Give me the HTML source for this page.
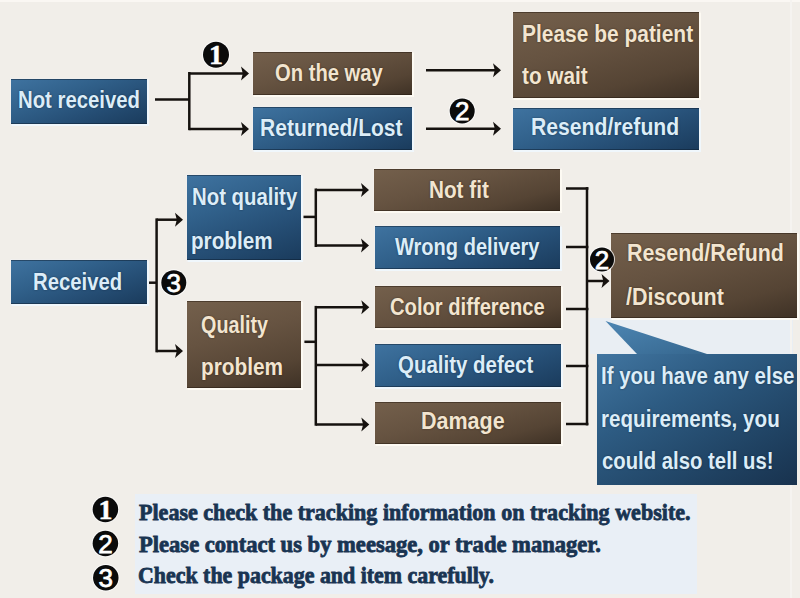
<!DOCTYPE html>
<html><head><meta charset="utf-8"><style>
html,body{margin:0;padding:0;}
body{width:800px;height:598px;overflow:hidden;position:relative;background:#f1eee9;font-family:"Liberation Sans",sans-serif;}
.bx{position:absolute;box-sizing:border-box;box-shadow:0 0 1px 1px rgba(255,255,255,0.75);}
.blue{background:linear-gradient(160deg,#3f73a0 0%,#31618b 35%,#264f76 65%,#1a3b5c 100%);box-shadow:0 0 1px 1.5px rgba(240,248,255,0.85),inset 0 1px 0 rgba(10,25,40,0.45),inset 0 -1px 0 rgba(10,25,40,0.45);}
.brown{background:linear-gradient(165deg,#74604c 0%,#665341 40%,#554434 75%,#3e3125 100%);box-shadow:0 0 1px 1.5px rgba(255,252,245,0.85),inset 0 1px 0 rgba(30,20,10,0.45),inset 0 -1px 0 rgba(30,20,10,0.45);}
.t{position:absolute;white-space:nowrap;font-weight:bold;font-size:23px;line-height:23px;}
.t span{display:inline-block;transform-origin:0 50%;}
.c span{transform-origin:50% 50%;}
.l span{transform-origin:0 50%;}
.tb{color:#dcedf8;text-shadow:0 0 2px rgba(0,20,40,0.6);}
.tr{color:#f2e5d0;text-shadow:0 0 2px rgba(30,15,0,0.6);}
.bt{position:absolute;white-space:nowrap;font-family:"Liberation Serif",serif;font-weight:bold;font-size:23px;line-height:23px;color:#193452;-webkit-text-stroke:0.8px #193452;}
svg{position:absolute;left:0;top:0;}
</style></head><body>

<div style="position:absolute;left:0;top:0;width:800px;height:1.5px;background:#faf7f3;"></div>
<div style="position:absolute;left:135px;top:494px;width:562px;height:100px;background:#e9eff6;"></div>
<div style="position:absolute;left:590px;top:318px;width:203px;height:36px;background:#e9eef3;"></div>
<div style="position:absolute;left:790px;top:0;width:1.5px;height:598px;background:#f5f3f0;"></div>
<div class="bx blue" style="left:11px;top:79px;width:136px;height:45px;"></div>
<div class="bx brown" style="left:253px;top:52px;width:158.5px;height:43px;"></div>
<div class="bx blue" style="left:253px;top:107px;width:158.5px;height:42.5px;"></div>
<div class="bx brown" style="left:513px;top:12px;width:186px;height:86px;"></div>
<div class="bx blue" style="left:513px;top:108px;width:186px;height:42px;"></div>
<div class="bx blue" style="left:11px;top:260px;width:136px;height:44px;"></div>
<div class="bx blue" style="left:187px;top:175px;width:114px;height:85px;"></div>
<div class="bx brown" style="left:187px;top:301px;width:114px;height:87px;"></div>
<div class="bx brown" style="left:374px;top:169px;width:186px;height:42px;"></div>
<div class="bx blue" style="left:374.5px;top:225.5px;width:185.5px;height:43px;"></div>
<div class="bx brown" style="left:375px;top:286px;width:185.5px;height:41.7px;"></div>
<div class="bx blue" style="left:375px;top:344px;width:185.5px;height:43.4px;"></div>
<div class="bx brown" style="left:375px;top:401.8px;width:185.5px;height:42.4px;"></div>
<div class="bx brown" style="left:611px;top:233px;width:186px;height:85px;"></div>
<div style="position:absolute;left:596.5px;top:353.5px;width:200px;height:131px;background:linear-gradient(150deg,#4175a0 0%,#2d5b82 35%,#214566 70%,#18324e 100%);"></div>
<svg width="800" height="598" viewBox="0 0 800 598" style="position:absolute;left:0;top:0"><defs><linearGradient id="tg" x1="0" y1="0" x2="1" y2="1"><stop offset="0" stop-color="#4d86b3"/><stop offset="1" stop-color="#36678f"/></linearGradient></defs><polygon points="605.5,321 637,354 707,354" fill="url(#tg)"/></svg>
<div class="t tb" style="left:17.52px;top:89.03px;"><span style="transform:scaleX(0.8838)">Not received</span></div>
<div class="t tr" style="left:275.40px;top:61.53px;"><span style="transform:scaleX(0.8783)">On the way</span></div>
<div class="t tb" style="left:260.49px;top:116.53px;"><span style="transform:scaleX(0.9144)">Returned/Lost</span></div>
<div class="t tr" style="left:521.99px;top:22.53px;"><span style="transform:scaleX(0.9106)">Please be patient</span></div>
<div class="t tr" style="left:522.30px;top:64.78px;"><span style="transform:scaleX(0.9027)">to wait</span></div>
<div class="t tb" style="left:531.38px;top:116.03px;"><span style="transform:scaleX(0.9203)">Resend/refund</span></div>
<div class="t tb" style="left:33.32px;top:270.73px;"><span style="transform:scaleX(0.8832)">Received</span></div>
<div class="t tb" style="left:191.51px;top:186.33px;"><span style="transform:scaleX(0.8853)">Not quality</span></div>
<div class="t tb" style="left:191.25px;top:230.03px;"><span style="transform:scaleX(0.8983)">problem</span></div>
<div class="t tr" style="left:201.40px;top:313.53px;"><span style="transform:scaleX(0.8597)">Quality</span></div>
<div class="t tr" style="left:200.50px;top:355.73px;"><span style="transform:scaleX(0.9039)">problem</span></div>
<div class="t tr" style="left:429.10px;top:178.53px;"><span style="transform:scaleX(0.9003)">Not fit</span></div>
<div class="t tb" style="left:395.40px;top:236.03px;"><span style="transform:scaleX(0.8720)">Wrong delivery</span></div>
<div class="t tr" style="left:389.90px;top:295.63px;"><span style="transform:scaleX(0.8771)">Color difference</span></div>
<div class="t tb" style="left:398.00px;top:353.93px;"><span style="transform:scaleX(0.8896)">Quality defect</span></div>
<div class="t tr" style="left:421.16px;top:410.03px;"><span style="transform:scaleX(0.9351)">Damage</span></div>
<div class="t tr" style="left:626.97px;top:242.03px;"><span style="transform:scaleX(0.9302)">Resend/Refund</span></div>
<div class="t tr" style="left:626.40px;top:286.03px;"><span style="transform:scaleX(0.9342)">/Discount</span></div>
<div class="t tb" style="left:601.21px;top:365.23px;"><span style="transform:scaleX(0.8899)">If you have any else</span></div>
<div class="t tb" style="left:600.90px;top:407.93px;"><span style="transform:scaleX(0.8964)">requirements, you</span></div>
<div class="t tb" style="left:602.10px;top:450.33px;"><span style="transform:scaleX(0.8832)">could also tell us!</span></div>
<svg width="800" height="598" viewBox="0 0 800 598"><line x1="155" y1="99.5" x2="189.3" y2="99.5" stroke="#16120f" stroke-width="2.5"/><line x1="189.3" y1="72" x2="189.3" y2="130.2" stroke="#16120f" stroke-width="2.5"/><line x1="189.3" y1="73.4" x2="245" y2="73.4" stroke="#16120f" stroke-width="2.5"/><polygon points="241,66.4 249,73.4 241,80.4 242.8,73.4" fill="#16120f"/><line x1="189.3" y1="128.9" x2="245" y2="128.9" stroke="#16120f" stroke-width="2.5"/><polygon points="241,121.9 249,128.9 241,135.9 242.8,128.9" fill="#16120f"/><line x1="426" y1="70.3" x2="497" y2="70.3" stroke="#16120f" stroke-width="2.5"/><polygon points="493,63.3 501,70.3 493,77.3 494.8,70.3" fill="#16120f"/><line x1="426" y1="128.7" x2="497" y2="128.7" stroke="#16120f" stroke-width="2.5"/><polygon points="493,121.69999999999999 501,128.7 493,135.7 494.8,128.7" fill="#16120f"/><line x1="149" y1="282.7" x2="157" y2="282.7" stroke="#16120f" stroke-width="2.5"/><line x1="156.6" y1="218.4" x2="156.6" y2="352.3" stroke="#16120f" stroke-width="2.5"/><line x1="156.6" y1="219.7" x2="179" y2="219.7" stroke="#16120f" stroke-width="2.5"/><polygon points="175,212.7 183,219.7 175,226.7 176.8,219.7" fill="#16120f"/><line x1="156.6" y1="351" x2="179" y2="351" stroke="#16120f" stroke-width="2.5"/><polygon points="175,344 183,351 175,358 176.8,351" fill="#16120f"/><line x1="303.5" y1="216.9" x2="316" y2="216.9" stroke="#16120f" stroke-width="2.5"/><line x1="315.8" y1="188.5" x2="315.8" y2="247" stroke="#16120f" stroke-width="2.5"/><line x1="315.8" y1="189.9" x2="365" y2="189.9" stroke="#16120f" stroke-width="2.5"/><polygon points="361,182.9 369,189.9 361,196.9 362.8,189.9" fill="#16120f"/><line x1="315.8" y1="245.6" x2="365" y2="245.6" stroke="#16120f" stroke-width="2.5"/><polygon points="361,238.6 369,245.6 361,252.6 362.8,245.6" fill="#16120f"/><line x1="304.4" y1="341.8" x2="316" y2="341.8" stroke="#16120f" stroke-width="2.5"/><line x1="315.8" y1="305.9" x2="315.8" y2="425.7" stroke="#16120f" stroke-width="2.5"/><line x1="315.8" y1="307.2" x2="365.3" y2="307.2" stroke="#16120f" stroke-width="2.5"/><polygon points="361.3,300.2 369.3,307.2 361.3,314.2 363.1,307.2" fill="#16120f"/><line x1="315.8" y1="365" x2="365.3" y2="365" stroke="#16120f" stroke-width="2.5"/><polygon points="361.3,358 369.3,365 361.3,372 363.1,365" fill="#16120f"/><line x1="315.8" y1="424.4" x2="365.3" y2="424.4" stroke="#16120f" stroke-width="2.5"/><polygon points="361.3,417.4 369.3,424.4 361.3,431.4 363.1,424.4" fill="#16120f"/><line x1="566" y1="188.5" x2="588.4" y2="188.5" stroke="#16120f" stroke-width="2.5"/><line x1="566" y1="247" x2="588.4" y2="247" stroke="#16120f" stroke-width="2.5"/><line x1="566" y1="309" x2="588.4" y2="309" stroke="#16120f" stroke-width="2.5"/><line x1="566" y1="366" x2="588.4" y2="366" stroke="#16120f" stroke-width="2.5"/><line x1="566" y1="424" x2="588.4" y2="424" stroke="#16120f" stroke-width="2.5"/><line x1="587" y1="187.1" x2="587" y2="425.4" stroke="#16120f" stroke-width="2.5"/><line x1="587" y1="281" x2="605.5" y2="281" stroke="#16120f" stroke-width="2.5"/><polygon points="601.5,274 609.5,281 601.5,288 603.3,281" fill="#16120f"/><circle cx="216" cy="54.7" r="14.0" fill="#ffffff" fill-opacity="0.75"/><circle cx="216" cy="54.7" r="13.0" fill="#0b0b0b"/><text x="216" y="64.3" text-anchor="middle" font-family="Liberation Serif" font-weight="bold" font-size="28" fill="#fff" stroke="#fff" stroke-width="0.5">1</text><circle cx="462.2" cy="111" r="13.5" fill="#ffffff" fill-opacity="0.75"/><circle cx="462.2" cy="111" r="12.5" fill="#0b0b0b"/><text x="462.2" y="120.3" text-anchor="middle" font-family="Liberation Sans" font-weight="normal" font-size="26" fill="#fff" stroke="#fff" stroke-width="0.75">2</text><circle cx="173.8" cy="282.7" r="13.5" fill="#ffffff" fill-opacity="0.75"/><circle cx="173.8" cy="282.7" r="12.5" fill="#0b0b0b"/><text x="173.8" y="292.0" text-anchor="middle" font-family="Liberation Sans" font-weight="normal" font-size="26" fill="#fff" stroke="#fff" stroke-width="0.75">3</text><circle cx="602" cy="259.5" r="13.0" fill="#ffffff" fill-opacity="0.75"/><circle cx="602" cy="259.5" r="12.0" fill="#0b0b0b"/><text x="602" y="268.8" text-anchor="middle" font-family="Liberation Sans" font-weight="normal" font-size="26" fill="#fff" stroke="#fff" stroke-width="0.75">2</text><circle cx="105.4" cy="509.4" r="13.75" fill="#ffffff" fill-opacity="0.75"/><circle cx="105.4" cy="509.4" r="12.75" fill="#0b0b0b"/><text x="105.4" y="519.0" text-anchor="middle" font-family="Liberation Serif" font-weight="bold" font-size="28" fill="#fff" stroke="#fff" stroke-width="0.5">1</text><circle cx="105.4" cy="543.5" r="13.75" fill="#ffffff" fill-opacity="0.75"/><circle cx="105.4" cy="543.5" r="12.75" fill="#0b0b0b"/><text x="105.4" y="552.8" text-anchor="middle" font-family="Liberation Sans" font-weight="normal" font-size="26" fill="#fff" stroke="#fff" stroke-width="0.75">2</text><circle cx="105.8" cy="577.8" r="13.75" fill="#ffffff" fill-opacity="0.75"/><circle cx="105.8" cy="577.8" r="12.75" fill="#0b0b0b"/><text x="105.8" y="587.0999999999999" text-anchor="middle" font-family="Liberation Sans" font-weight="normal" font-size="26" fill="#fff" stroke="#fff" stroke-width="0.75">3</text></svg>
<div class="bt" style="left:138.80px;top:500.74px;"><span style="display:inline-block;transform-origin:0 50%;transform:scaleX(0.9593)">Please check the tracking information on tracking website.</span></div>
<div class="bt" style="left:138.80px;top:532.64px;"><span style="display:inline-block;transform-origin:0 50%;transform:scaleX(0.9812)">Please contact us by meesage, or trade manager.</span></div>
<div class="bt" style="left:137.85px;top:564.34px;"><span style="display:inline-block;transform-origin:0 50%;transform:scaleX(0.9522)">Check the package and item carefully.</span></div>
</body></html>
